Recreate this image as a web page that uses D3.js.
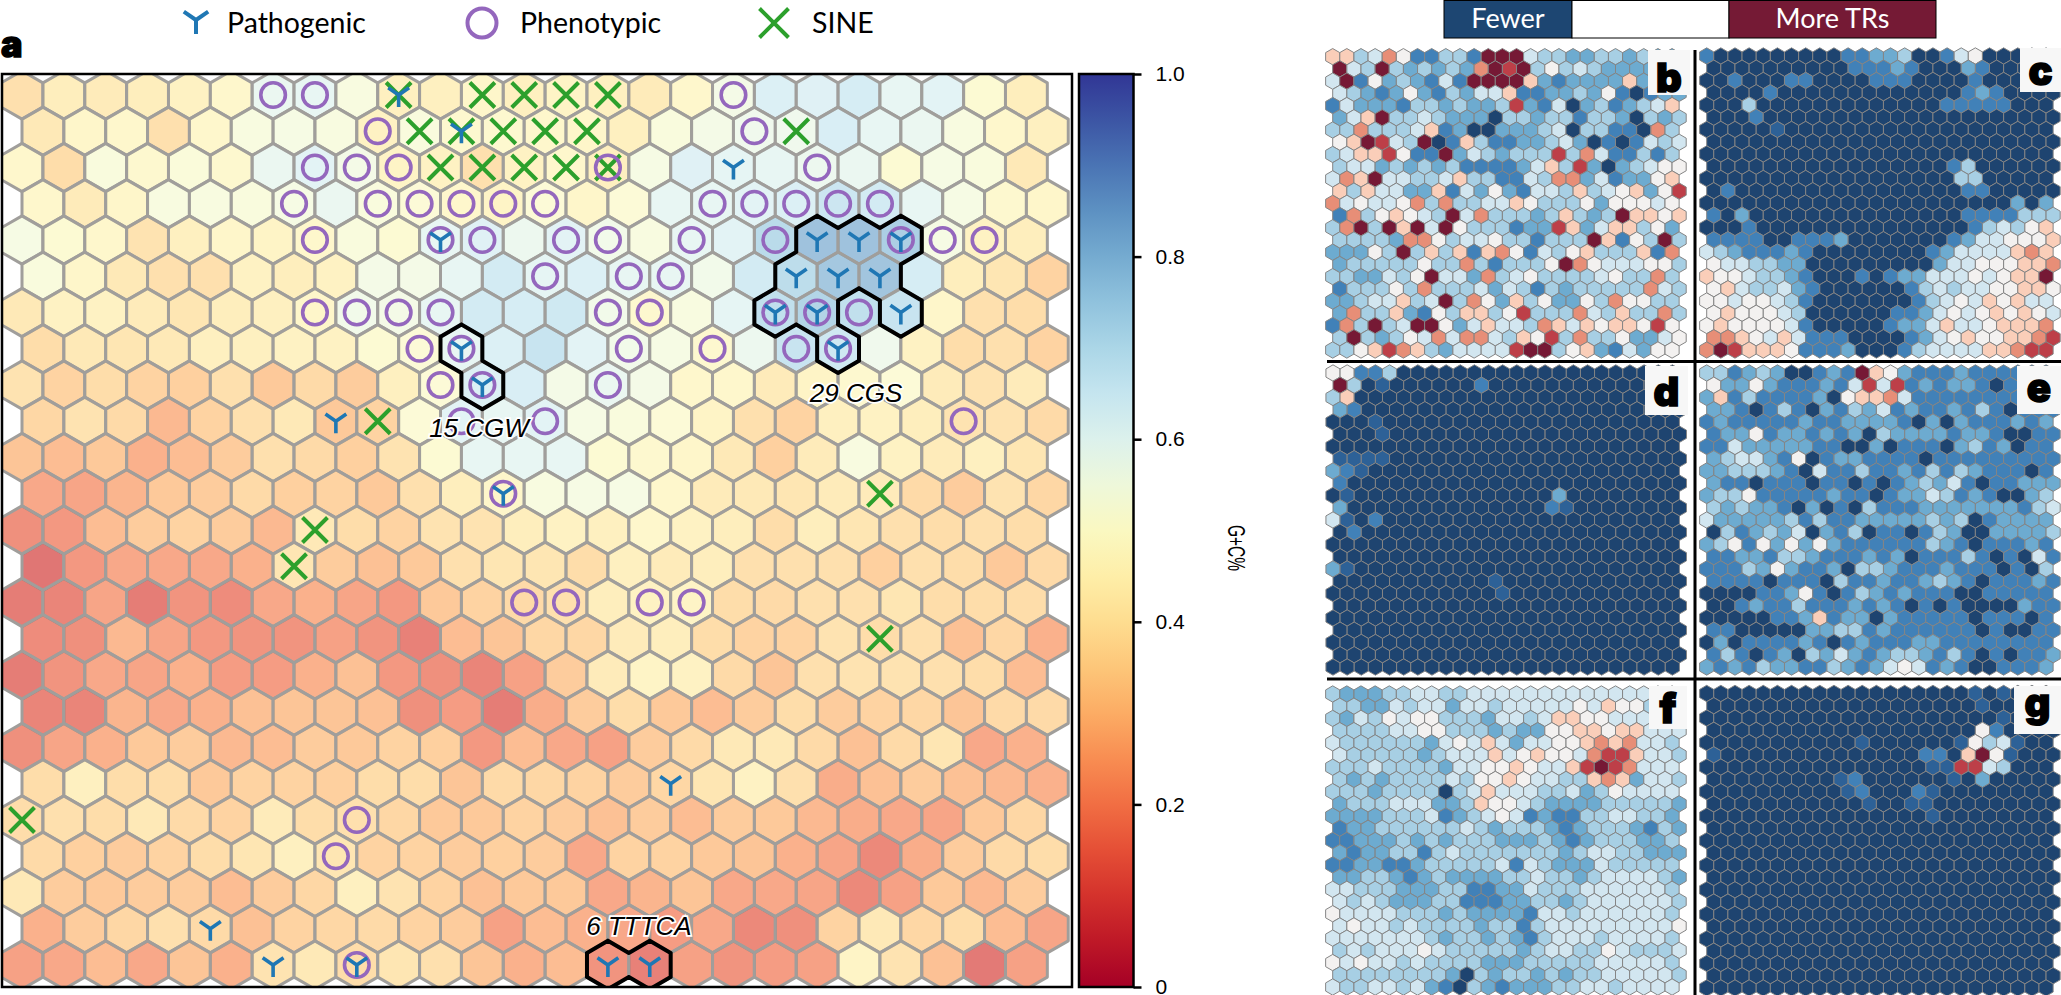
<!DOCTYPE html>
<html>
<head>
<meta charset="utf-8">
<script src="https://cdn.jsdelivr.net/npm/d3@7"></script>
<style>
  html, body { margin: 0; padding: 0; background: #fff; }
  svg { display: block; }
  text { font-family: Lato, sans-serif; }
</style>
</head>
<body>
<div id="chart"></div>
<script>
// G+C percent of every map unit, one list per hex row
const gcRows = [
  [37,42,41,42,44,47,59,60,53,43,43,46,43,45,43,41,47,55,64,63,66,60,62,49,42],
  [40,46,47,37,47,53,54,53,44,52,48,48,47,46,43,52,55,57,57,65,60,59,53,47,43],
  [47,36,52,48,51,48,59,62,55,45,44,37,44,47,43,54,63,61,60,58,59,49,54,52,40],
  [47,41,46,53,53,52,54,59,52,50,47,45,50,46,50,60,60,62,64,69,67,60,54,48,46],
  [54,49,47,38,43,46,45,47,52,49,60,63,58,62,56,53,60,62,74,82,82,78,54,44,42],
  [52,46,40,37,37,44,42,44,55,55,60,67,61,64,60,60,56,67,73,80,81,66,42,39,33],
  [40,44,44,41,39,42,43,46,56,55,60,67,66,68,56,48,53,61,72,76,72,70,46,37,36],
  [36,40,39,40,43,43,44,44,49,50,60,64,70,62,56,54,48,58,70,68,57,44,36,37,33],
  [38,33,36,33,32,37,30,35,31,43,50,64,65,55,59,55,47,47,41,45,48,50,41,38,41],
  [34,38,35,26,33,37,40,30,33,50,62,60,62,54,52,50,45,37,33,43,44,42,38,38,35],
  [29,27,30,24,27,31,37,35,32,38,49,60,60,60,49,48,46,40,32,41,53,44,41,43,39],
  [22,21,25,30,31,35,32,33,30,37,42,46,53,54,54,47,41,40,39,41,41,35,31,38,34],
  [16,18,27,31,33,31,26,40,36,33,38,38,42,44,43,47,44,42,36,42,39,37,36,37,36],
  [9,18,22,22,22,24,39,31,28,30,37,39,39,36,43,41,42,37,37,37,32,37,36,30,35],
  [11,13,21,11,17,15,22,24,21,18,30,33,35,37,42,44,45,36,35,37,37,39,36,36,36],
  [15,16,26,21,18,17,17,20,17,12,27,29,34,34,41,42,36,33,33,38,36,37,28,34,24],
  [11,17,22,21,24,19,19,24,28,18,16,13,20,31,41,45,44,35,29,37,38,38,37,36,27],
  [13,13,25,22,24,28,29,29,28,16,19,11,23,31,36,30,27,31,36,31,33,34,29,35,35],
  [16,21,24,30,31,26,27,31,30,33,32,18,27,22,20,31,35,40,40,35,28,35,39,22,24],
  [36,43,36,36,30,33,33,32,36,36,29,35,34,33,31,34,39,44,37,23,28,31,28,26,24],
  [36,37,36,40,35,33,41,36,37,34,30,30,33,31,28,31,27,31,30,26,23,22,21,30,34],
  [35,32,31,33,36,39,43,39,33,33,31,32,31,22,33,33,30,29,24,21,14,23,31,35,36],
  [40,31,30,31,31,27,31,34,43,38,33,28,30,30,22,25,29,22,22,21,14,20,30,26,31],
  [24,31,34,37,35,28,33,34,35,33,31,20,27,24,22,19,22,14,16,33,40,34,36,27,21],
  [20,22,27,22,29,24,38,40,36,39,37,29,24,27,17,12,20,17,19,20,45,38,28,10,20]
]

// marker cells as [row, col]
const sineCells = [[0,9],[0,11],[0,12],[0,13],[0,14],[1,9],[1,10],[1,11],[1,12],[1,13],[1,18],
  [2,10],[2,11],[2,12],[2,13],[2,14],[9,8],[11,20],[12,7],[13,6],[15,20],[20,0]]
const phenotypicCells = [[0,6],[0,7],[0,17],[1,8],[1,17],[2,7],[2,8],[2,9],[2,14],[2,19],
  [3,6],[3,8],[3,9],[3,10],[3,11],[3,12],[3,16],[3,17],[3,18],[3,19],[3,20],
  [4,7],[4,10],[4,11],[4,13],[4,14],[4,16],[4,18],[4,21],[4,22],[4,23],[5,12],[5,14],[5,15],
  [6,7],[6,8],[6,9],[6,10],[6,14],[6,15],[6,18],[6,19],[6,20],
  [7,9],[7,10],[7,14],[7,16],[7,18],[7,19],[8,10],[8,11],[8,14],[9,10],[9,12],[9,22],[11,11],
  [14,12],[14,13],[14,15],[14,16],[20,8],[21,7],[24,8]]
const pathogenicCells = [[0,9],[1,10],[2,17],[4,10],[4,19],[4,20],[4,21],[5,18],[5,19],[5,20],
  [6,18],[6,19],[6,21],[7,10],[7,19],[8,11],[9,7],[11,11],[19,15],[23,4],[24,6],[24,8],[24,14],[24,15]]

const clusterCgs = [[4,19],[4,20],[4,21],[5,18],[5,19],[5,20],[6,18],[6,19],[6,21],[7,19]]
const clusterCgw = [[7,10],[8,11]]
const clusterTttca = [[24,14],[24,15]]

const colorbarTicks = [0, 0.2, 0.4, 0.6, 0.8, 1]

// side maps: one digit per hex, 0 = far fewer TRs, 9 = far more TRs, a = just above 0
const panelB = [
  '6634751133199943322332322','9439323232798935343222223','4915232141999962122226223',
  '4321252132446112232510122','1422213323223821402312346','2469334322203323313320323',
  '3373334612002223403311073','5698439016311223420101434','3466851192432333837411313',
  '3442323231111246382023455','4769443346331143772412256','6364422614252144363456258',
  '7454457373344653335255545','1735654394733323632396656','3793969495333122862466352',
  '3333277534453313339615393','2225393636167514356333617','2333335337313335975444553',
  '3322435944273453333453373','1333537333424313233333743','2234463493752635225375533',
  '2733621536635833374363373','1739349952464437646566585','3932354747743658373352245',
  '3356876324444899356214255'
]
const panelC = [
  '1000000000112230014500000','0000000000111210002100000','0010001100001110000100000',
  '0000100000000000001210000','0003000000000000011111000','0001000000000000000000000',
  '00000a0000000000000000000','0000000000000000000000000','0000000000000000000000000',
  '0000000000000000013000000','0000000000000000003300000','0100000000000000001100000',
  '0000000000000000000000202','1020000000000000001111333','0001000000000000000134356',
  '1111001112000000012445556','4321112100000000124444676','5443322000000000244555667',
  '6554332100010122444545669','5643342100000013434455665','5545543100000001345465644',
  '5655543000000112454565654','5655554100000122464456667','7765464111000012456556678',
  '7986665111200013444466788'
]
const panelD = [
  '5511300000000000000000000','930a000000100000000000000','3600000000000000000000000',
  '2100000000000000000000000','000a000000000000000000000','000a000000000000000000000',
  '0000000000000000000000000','aaaa000000000000000000000','21a0000000000000000000000',
  '1000000000000000000000000','0a00000000000000200000000','2000000000000001a00000000',
  '4a01000000000000000000000','0100000000000000000000000','0000000000000000000000000',
  '0000000000000000000000000','2a00000000000000000000000','00000000000a0000000000000',
  '000000000000a000000000000','0000000000000000000000000','0000000000000000000000000',
  '0000000000000000000000000','0000000000000000000000000','0000000000000000000000000',
  '0000000000000000000000000'
]
const panelE = [
  '3312320012196521112111111','5225211121484812122101111','2613111120566741111111111',
  '2210131021324121121310111','1211111211222210202111212','1225122121203222212210011',
  '1142222211002011102312011','2344215012211110111111111','2233321041131121313211101',
  '2110111011010123241011222','2335111112110122431210023','3232210201031112222222134',
  '4222223131122222323012222','0312324021301101320022223','2351525252111111321011121',
  '1122133211121201113101041','1113252112033211121110103','1111011103112112321011121',
  '0000112510132121110011111','0012113111212101010000211','0000011261220211111011101',
  '1100000223312111111010011','0201111210121112211111111','1310120324212332131010112',
  '2121322113212454121001112'
]
const panelF = [
  '3222334433444444444444433','3322434424434444454655333','3243545533324434665544444',
  '3333445533323225566566444','4333333245464244556767443','4333332344464565547886443',
  '3334333324455654468987444','3232333343556544336762443','3332333303464443342354444',
  '2333444223655432222333332','2222333412345412113344332','1223333334323332123332132',
  '1122232323332223212333223','2122331343333333234433222','1122112333334143222433333',
  '2233212322223343323444432','4433322233112243334444443','4343222331112233234444443',
  '5444433323222214434444443','4544343333233134444444445','4444444323323213444344443',
  '3434445433333234433543334','5454434333322233333444443','3333333320323323233444443',
  '4334434210321222334434444'
]
const panelG = [
  '0000000000000000000a0a000','0000000000000000000a00000','000000000000000000000a000',
  '0000000000000000000510000','00000000000a000000a534a00','a00000000000000110695a000',
  '0000000000000000aa8843000','000000000a1000000a0200000','0000000000a10001a00000000',
  '00000000000a00aa000000000','0000000000000000a00000000','0000000000000000000000000',
  '0000000000000000000000000','0000000000000000000000000','0000000000000000000000000',
  '0000000000000000000000000','0000000000000000000000000','0000000000000000000000000',
  '0000000000000000000000000','0000000000000000000000000','0000000000000000000000000',
  '0000000000000000000000000','0000000000000000000000000','0000000000000000000000000',
  '0000000000000000000000000'
]

const WIDTH = 2061,
      HEIGHT = 995,
      HEX_LAST = 24,
      MAIN = { LEFT: 2, RIGHT: 1072, TOP: 74, BOTTOM: 987 }

const svg = d3.select('#chart')
  .append('svg')
  .attr('width', WIDTH)
  .attr('height', HEIGHT)

const defs = svg.append('defs')

const levelToT = d3.scaleLinear()
  .domain([0, 0.5, 1, 2, 3, 4, 5, 6, 7, 8, 9])
  .range([1, 0.94, 0.87, 0.77, 0.68, 0.6, 0.5, 0.37, 0.25, 0.12, 0])

// pointy top hexagon, corners clockwise from the top one
const hexCorners = (cx, cy, r) => d3.range(6).map(i => {
  const a = (i * 60 - 90) * Math.PI / 180
  return [cx + r * Math.cos(a), cy + r * Math.sin(a)]
})
const hexPath = (cx, cy, r) => 'M' + hexCorners(cx, cy, r).join('L') + 'Z'

// ---- panel a ----
const mainX = d3.scaleLinear().domain([0, HEX_LAST]).range([22, 1026.4])
const mainY = d3.scaleLinear().domain([0, HEX_LAST]).range([95, 965])
const mainStep = mainX(1) - mainX(0)
const mainR = mainStep / Math.sqrt(3)
const cellX = (r, c) => mainX(c) + (r % 2 ? mainStep / 2 : 0)
const cellY = r => mainY(r)

defs.append('clipPath').attr('id', 'main-clip')
  .append('rect')
  .attr('x', MAIN.LEFT)
  .attr('y', MAIN.TOP)
  .attr('width', MAIN.RIGHT - MAIN.LEFT)
  .attr('height', MAIN.BOTTOM - MAIN.TOP)

const mainGroup = svg.append('g').attr('clip-path', 'url(#main-clip)')

const gcCells = gcRows.flatMap((row, r) => row.map((v, c) => ({ r, c, v: v / 100 })))

mainGroup.selectAll('path.hex')
  .data(gcCells)
  .enter()
  .append('path')
  .attr('class', 'hex')
  .attr('d', d => hexPath(cellX(d.r, d.c), cellY(d.r), mainR))
  .attr('fill', d => d3.interpolateRdYlBu(d.v))
  .attr('fill-opacity', 0.65)
  .attr('stroke', '#a09e9b')
  .attr('stroke-width', 3)
  .attr('stroke-linejoin', 'round')

// thick outline where a cluster cell borders a cell outside the cluster
const drawClusterOutline = (cells) => {
  const has = (r, c) => cells.some(d => d[0] === r && d[1] === c)
  const edges = []
  cells.forEach(([r, c]) => {
    const odd = r % 2
    const neighbours = [
      [r, c + 1], [r + 1, c + odd], [r + 1, c + odd - 1],
      [r, c - 1], [r - 1, c + odd - 1], [r - 1, c + odd]
    ]
    const corners = hexCorners(cellX(r, c), cellY(r), mainR)
    neighbours.forEach((n, i) => {
      if (!has(n[0], n[1])) edges.push([corners[(i + 1) % 6], corners[(i + 2) % 6]])
    })
  })
  mainGroup.append('path')
    .attr('d', edges.map(e => 'M' + e.join('L')).join(''))
    .attr('fill', 'none')
    .attr('stroke', '#000')
    .attr('stroke-width', 4)
    .attr('stroke-linecap', 'round')
}
;[clusterCgs, clusterCgw, clusterTttca].forEach(drawClusterOutline)

const markerColor = {
  pathogenic: d3.schemeCategory10[0],
  phenotypic: d3.schemeCategory10[4],
  sine: d3.schemeCategory10[2]
}

const drawSine = (g, x, y, s = 12.5, w = 4) => g.append('path')
  .attr('d', `M${x - s},${y - s}L${x + s},${y + s}M${x - s},${y + s}L${x + s},${y - s}`)
  .attr('fill', 'none')
  .attr('stroke', markerColor.sine)
  .attr('stroke-width', w)

const drawPhenotypic = (g, x, y, s = 12.3, w = 3.6) => g.append('circle')
  .attr('cx', x)
  .attr('cy', y)
  .attr('r', s)
  .attr('fill', 'none')
  .attr('stroke', markerColor.phenotypic)
  .attr('stroke-width', w)

const drawPathogenic = (g, x, y, s = 12, w = 3.6) => g.append('path')
  .attr('d', `M${x},${y}L${x},${y + s}M${x},${y}L${x - s * 0.87},${y - s * 0.6}M${x},${y}L${x + s * 0.87},${y - s * 0.6}`)
  .attr('fill', 'none')
  .attr('stroke', markerColor.pathogenic)
  .attr('stroke-width', w)

sineCells.forEach(([r, c]) => drawSine(mainGroup, cellX(r, c), cellY(r)))
phenotypicCells.forEach(([r, c]) => drawPhenotypic(mainGroup, cellX(r, c), cellY(r)))
pathogenicCells.forEach(([r, c]) => drawPathogenic(mainGroup, cellX(r, c), cellY(r)))

svg.append('rect')
  .attr('x', MAIN.LEFT)
  .attr('y', MAIN.TOP)
  .attr('width', MAIN.RIGHT - MAIN.LEFT)
  .attr('height', MAIN.BOTTOM - MAIN.TOP)
  .attr('fill', 'none')
  .attr('stroke', '#000')
  .attr('stroke-width', 2.5)

const annotation = (label, x, y) => svg.append('text')
  .attr('x', x)
  .attr('y', y)
  .attr('text-anchor', 'middle')
  .style('font-family', '"Liberation Sans", sans-serif')
  .style('font-style', 'italic')
  .style('font-size', '26px')
  .style('paint-order', 'stroke')
  .attr('stroke', '#fff')
  .attr('stroke-width', 3.5)
  .attr('fill', '#000')
  .text(label)
annotation('29 CGS', 856, 402)
annotation('15 CGW', 479, 437)
annotation('6 TTTCA', 639, 935)

// ---- colour bar ----
const barY = d3.scaleLinear().domain([0, 1]).range([MAIN.BOTTOM, MAIN.TOP])
const barGradient = defs.append('linearGradient')
  .attr('id', 'gc-gradient')
  .attr('x1', 0).attr('x2', 0).attr('y1', 1).attr('y2', 0)
barGradient.selectAll('stop')
  .data(d3.range(0, 1.001, 0.05))
  .enter()
  .append('stop')
  .attr('offset', d => d)
  .attr('stop-color', d => d3.interpolateRdYlBu(d))

svg.append('rect')
  .attr('x', 1079)
  .attr('y', MAIN.TOP)
  .attr('width', 54.5)
  .attr('height', MAIN.BOTTOM - MAIN.TOP)
  .attr('fill', 'url(#gc-gradient)')
  .attr('stroke', '#000')
  .attr('stroke-width', 2.5)

const barAxis = svg.append('g')
  .attr('transform', 'translate(1133.5,0)')
  .call(d3.axisRight(barY)
    .tickValues(colorbarTicks)
    .tickSize(8)
    .tickPadding(14)
    .tickFormat(d => d === 0 ? '0' : d3.format('.1f')(d)))
barAxis.select('.domain').remove()
barAxis.selectAll('line').attr('stroke', '#000').attr('stroke-width', 2.5)
barAxis.selectAll('text')
  .style('font-family', '"Liberation Sans", sans-serif')
  .style('font-size', '21px')
  .attr('fill', '#000')

svg.append('text')
  .attr('transform', 'translate(1228,548) rotate(90)')
  .attr('text-anchor', 'middle')
  .attr('textLength', 46)
  .attr('lengthAdjust', 'spacingAndGlyphs')
  .style('font-family', '"Liberation Sans", sans-serif')
  .style('font-size', '24px')
  .text('G+C%')

// ---- top legend ----
const legendText = (label, x) => svg.append('text')
  .attr('x', x)
  .attr('y', 33)
  .style('font-size', '28.5px')
  .style('font-weight', 400)
  .text(label)
drawPathogenic(svg, 196, 20, 14, 4)
legendText('Pathogenic', 227)
drawPhenotypic(svg, 482, 23, 14.5, 4)
legendText('Phenotypic', 520)
drawSine(svg, 774, 23, 14.5, 4)
legendText('SINE', 812)

const panelLetter = (letter, x, y, size, anchor = 'middle') => svg.append('text')
  .attr('x', x)
  .attr('y', y)
  .attr('text-anchor', anchor)
  .style('font-family', 'Inter, sans-serif')
  .style('font-weight', 900)
  .style('font-size', size + 'px')
  .attr('stroke', '#000')
  .attr('stroke-width', 1.4)
  .text(letter)
panelLetter('a', 1, 57, 36, 'start')

// ---- side maps ----
const sidePanels = [
  { name: 'b', rows: panelB, x0: 1332.7, y0: 56.7, y1: 350, box: [1648, 50, 42, 45], letterY: 92 },
  { name: 'c', rows: panelC, x0: 1706.7, y0: 56, y1: 350, box: [2020, 48, 41, 44], letterY: 85 },
  { name: 'd', rows: panelD, x0: 1333, y0: 373, y1: 667, box: [1645, 366, 43, 49], letterY: 406 },
  { name: 'e', rows: panelE, x0: 1706.7, y0: 373, y1: 667, box: [2017, 366, 44, 48], letterY: 402 },
  { name: 'f', rows: panelF, x0: 1332.7, y0: 694, y1: 987, box: [1649, 686, 38, 43], letterY: 723 },
  { name: 'g', rows: panelG, x0: 1706.7, y0: 693.5, y1: 988, box: [2014, 686, 47, 48], letterY: 717 }
]

const SIDE_STEP = 14.14
const parseLevel = ch => ch === 'a' ? 0.5 : +ch

sidePanels.forEach(panel => {
  const x = d3.scaleLinear().domain([0, HEX_LAST]).range([panel.x0, panel.x0 + HEX_LAST * SIDE_STEP])
  const y = d3.scaleLinear().domain([0, HEX_LAST]).range([panel.y0, panel.y1])
  const cells = panel.rows.flatMap((row, r) => row.split('').map((v, c) => ({ r, c, v: parseLevel(v) })))
  svg.append('g')
    .attr('id', 'panel-' + panel.name)
    .selectAll('path')
    .data(cells)
    .enter()
    .append('path')
    .attr('d', d => hexPath(x(d.c) + (d.r % 2 ? SIDE_STEP / 2 : 0), y(d.r), SIDE_STEP / Math.sqrt(3)))
    .attr('fill', d => d3.interpolateRdBu(levelToT(d.v)))
    .attr('fill-opacity', 0.9)
    .attr('stroke', '#858585')
    .attr('stroke-width', 1)

  const [bx, by, bw, bh] = panel.box
  svg.append('rect')
    .attr('x', bx).attr('y', by).attr('width', bw).attr('height', bh)
    .attr('fill', '#f7f7f7')
  panelLetter(panel.name, bx + bw / 2, panel.letterY, 40)
})

// dividers between the side maps
const dividers = [[1695, 50, 1695, 995], [1327, 361.5, 2061, 361.5], [1327, 679, 2061, 679]]
svg.selectAll('line.divider')
  .data(dividers)
  .enter()
  .append('line')
  .attr('class', 'divider')
  .attr('x1', d => d[0]).attr('y1', d => d[1])
  .attr('x2', d => d[2]).attr('y2', d => d[3])
  .attr('stroke', '#000')
  .attr('stroke-width', 3)

// ---- fewer / more key ----
const keyBoxes = [
  { label: 'Fewer', x: 1444, w: 128, fill: '#1d4672', color: '#fff' },
  { label: '', x: 1572, w: 157, fill: '#fff', color: '#000' },
  { label: 'More TRs', x: 1729, w: 207, fill: '#751a35', color: '#fff' }
]
const keyGroups = svg.selectAll('g.key')
  .data(keyBoxes)
  .enter()
  .append('g')
  .attr('class', 'key')
keyGroups.append('rect')
  .attr('x', d => d.x)
  .attr('y', 0.5)
  .attr('width', d => d.w)
  .attr('height', 37.5)
  .attr('fill', d => d.fill)
  .attr('stroke', '#000')
  .attr('stroke-width', 1)
keyGroups.filter(d => d.label)
  .append('text')
  .attr('x', d => d.x + d.w / 2)
  .attr('y', 28)
  .attr('text-anchor', 'middle')
  .attr('fill', d => d.color)
  .style('font-size', '27px')
  .text(d => d.label)
</script>
</body>
</html>
